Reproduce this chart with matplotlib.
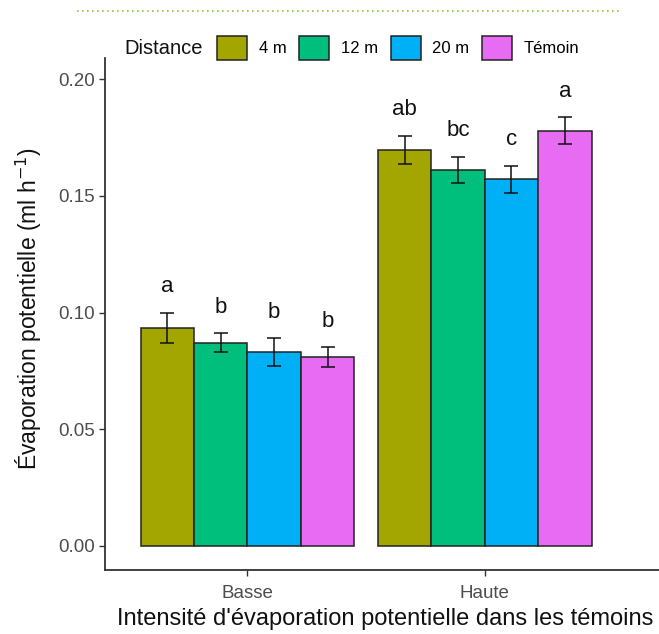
import numpy as np
import matplotlib.pyplot as plt
from matplotlib.patches import Patch
from matplotlib.lines import Line2D

plt.rcParams['font.family'] = ['Liberation Sans', 'DejaVu Sans']

groups = ['Basse', 'Haute']
distances = ['4 m', '12 m', '20 m', 'Témoin']
colors = ['#A3A500', '#00BF7D', '#00B0F6', '#E76BF3']

means = {
    '4 m':    [0.0934, 0.1698],
    '12 m':   [0.0870, 0.1610],
    '20 m':   [0.0830, 0.1570],
    'Témoin': [0.0808, 0.1778],
}
errors = {
    '4 m':    [0.0066, 0.0060],
    '12 m':   [0.0041, 0.0057],
    '20 m':   [0.0060, 0.0057],
    'Témoin': [0.0043, 0.0058],
}
letters = {
    '4 m':    ['a', 'ab'],
    '12 m':   ['b', 'bc'],
    '20 m':   ['b', 'c'],
    'Témoin': ['b', 'a'],
}

fig = plt.figure(figsize=(6.59, 6.34), dpi=100)
ax = fig.add_axes([0.1593, 0.1009, 0.8407, 0.8076])

x = np.arange(1, len(groups) + 1)
n = len(distances)
width = 0.9 / n
for i, d in enumerate(distances):
    xs = x - 0.45 + width * (i + 0.5)
    m = np.array(means[d])
    e = np.array(errors[d])
    ax.bar(xs, m, width=width, color=colors[i], edgecolor='#222222', linewidth=1.1, zorder=2)
    ax.errorbar(xs, m, yerr=e, fmt='none', ecolor='#111111', elinewidth=1.1,
                capsize=5, capthick=1.1, zorder=3)
    for xi, yi, lab in zip(xs, m + e, letters[d]):
        ax.text(xi, yi + 0.0112, lab, ha='center', va='center', fontsize=16, color='#111111')

ax.set_xlim(0.4, 2.734)
ax.set_ylim(-0.0103, 0.209)
ax.set_xticks(x)
ax.set_xticklabels(groups)
ax.set_yticks([0.0, 0.05, 0.10, 0.15, 0.20])
ax.set_yticklabels(['0.00', '0.05', '0.10', '0.15', '0.20'])
ax.tick_params(axis='both', colors='#333333', labelcolor='#4d4d4d', labelsize=13.5, length=4, width=1)
ax.tick_params(axis='x', pad=6.5)
for s in ['top', 'right']:
    ax.spines[s].set_visible(False)
for s in ['left', 'bottom']:
    ax.spines[s].set_color('#333333')
    ax.spines[s].set_linewidth(1.3)

ax.set_ylabel('Évaporation potentielle (ml h$^{-1}$)', fontsize=16.5, color='#111111')
ax.yaxis.set_label_coords(-0.11, 0.51)
ax.set_xlabel("Intensité d'évaporation potentielle dans les témoins", fontsize=17, color='#111111')
ax.xaxis.set_label_coords(0.505, -0.074)

handles = [Patch(facecolor=c, edgecolor='#222222', linewidth=1.1) for c in colors]
fig.text(124 / 659, 1 - 48 / 634, 'Distance', fontsize=14.5, va='center', ha='left', color='#111111')
fig.legend(handles, distances, loc='center left', bbox_to_anchor=(209 / 659, 1 - 48 / 634),
           ncol=4, frameon=False, fontsize=12, handlelength=1.8, handleheight=1.8,
           handletextpad=0.7, columnspacing=0.75, borderpad=0)

fig.add_artist(Line2D([77 / 659, 620 / 659], [1 - 11 / 634, 1 - 11 / 634],
                      color='#8DC63F', linestyle=(0, (1, 2)), linewidth=1.2))

fig.savefig('out.png', dpi=100)
